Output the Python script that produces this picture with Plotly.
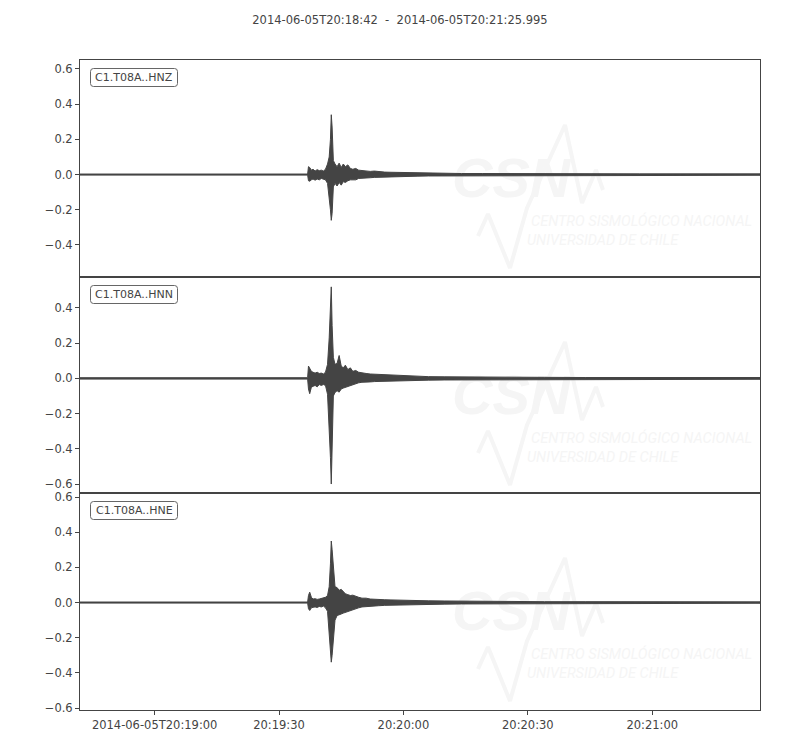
import pandas as pd
import plotly.graph_objects as go

# ---------------- data ----------------
START = "2014-06-05 20:18:42"
END = "2014-06-05 20:21:25.995"
TITLE = "2014-06-05T20:18:42  -  2014-06-05T20:21:25.995"

CHANNELS = ["C1.T08A..HNZ", "C1.T08A..HNN", "C1.T08A..HNE"]

# seconds after START at which the min/max envelope was read
T_SEC = [0, 8, 16, 24, 32, 40, 48, 54.9, 55.1, 55.4, 55.8, 56.2, 56.7, 57.2, 57.7,
         58.2, 58.7, 59.2, 59.7, 60.1, 60.4, 60.6, 60.8, 61.1, 61.5, 62.0, 62.5,
         63.0, 63.5, 64.0, 64.6, 65.2, 65.8, 66.5, 67.2, 68.0, 69.0, 70.0, 71.0,
         72.0, 73.5, 75.0, 77.0, 79.0, 81.5, 84.0, 88.0, 92.0, 97.0, 104.0, 112.0,
         122.0, 135.0, 150.0, 163.995]

HNZ_MAX = [0.003, 0.003, 0.003, 0.003, 0.003, 0.003, 0.003, 0.003, 0.045, 0.04,
           0.025, 0.03, 0.02, 0.028, 0.022, 0.025, 0.02, 0.03, 0.06, 0.10, 0.20,
           0.34, 0.27, 0.08, 0.06, 0.045, 0.065, 0.04, 0.06, 0.045, 0.055, 0.035,
           0.03, 0.035, 0.025, 0.022, 0.02, 0.018, 0.02, 0.016, 0.014, 0.013, 0.012,
           0.01, 0.009, 0.008, 0.007, 0.006, 0.006, 0.005, 0.005, 0.004, 0.004,
           0.004, 0.004]
HNZ_MIN = [-0.003, -0.003, -0.003, -0.003, -0.003, -0.003, -0.003, -0.003, -0.035,
           -0.038, -0.03, -0.025, -0.032, -0.025, -0.03, -0.022, -0.028, -0.03,
           -0.05, -0.12, -0.20, -0.26, -0.22, -0.07, -0.05, -0.065, -0.045, -0.06,
           -0.04, -0.045, -0.035, -0.03, -0.028, -0.03, -0.022, -0.02, -0.019,
           -0.018, -0.016, -0.015, -0.013, -0.012, -0.011, -0.01, -0.009, -0.008,
           -0.007, -0.006, -0.006, -0.005, -0.005, -0.004, -0.004, -0.004, -0.004]

HNN_MAX = [0.004, 0.004, 0.004, 0.004, 0.004, 0.004, 0.004, 0.004, 0.07, 0.06,
           0.04, 0.035, 0.03, 0.035, 0.028, 0.03, 0.025, 0.035, 0.08, 0.23, 0.40,
           0.52, 0.30, 0.12, 0.08, 0.085, 0.13, 0.07, 0.06, 0.075, 0.05, 0.06,
           0.04, 0.045, 0.035, 0.03, 0.028, 0.025, 0.024, 0.02, 0.018, 0.016,
           0.014, 0.013, 0.012, 0.01, 0.009, 0.008, 0.007, 0.006, 0.006, 0.005,
           0.005, 0.005, 0.005]
HNN_MIN = [-0.004, -0.004, -0.004, -0.004, -0.004, -0.004, -0.004, -0.004, -0.06,
           -0.087, -0.05, -0.045, -0.04, -0.048, -0.035, -0.04, -0.035, -0.04,
           -0.09, -0.31, -0.45, -0.60, -0.40, -0.10, -0.08, -0.07, -0.078, -0.06,
           -0.055, -0.05, -0.045, -0.04, -0.035, -0.03, -0.025, -0.022, -0.02,
           -0.02, -0.018, -0.016, -0.015, -0.014, -0.013, -0.012, -0.011, -0.01,
           -0.009, -0.008, -0.007, -0.006, -0.006, -0.005, -0.005, -0.005, -0.005]

HNE_MAX = [0.003, 0.003, 0.003, 0.003, 0.003, 0.003, 0.003, 0.003, 0.04, 0.059,
           0.03, 0.02, 0.022, 0.018, 0.02, 0.022, 0.025, 0.03, 0.04, 0.09, 0.22,
           0.35, 0.30, 0.21, 0.09, 0.085, 0.07, 0.075, 0.06, 0.05, 0.045, 0.04,
           0.042, 0.035, 0.03, 0.025, 0.025, 0.02, 0.02, 0.018, 0.016, 0.015,
           0.013, 0.012, 0.011, 0.01, 0.009, 0.008, 0.007, 0.006, 0.005, 0.005,
           0.004, 0.004, 0.004]
HNE_MIN = [-0.003, -0.003, -0.003, -0.003, -0.003, -0.003, -0.003, -0.003, -0.035,
           -0.045, -0.03, -0.027, -0.025, -0.028, -0.022, -0.025, -0.02, -0.03,
           -0.05, -0.15, -0.28, -0.339, -0.30, -0.244, -0.10, -0.074, -0.07,
           -0.065, -0.06, -0.055, -0.05, -0.045, -0.04, -0.035, -0.03, -0.025,
           -0.025, -0.02, -0.02, -0.018, -0.016, -0.015, -0.013, -0.012, -0.011,
           -0.01, -0.009, -0.008, -0.007, -0.006, -0.005, -0.005, -0.004, -0.004,
           -0.004]

Y_RANGES = [[-0.582, 0.651], [-0.651, 0.576], [-0.611, 0.623]]
Y_TICKVALS = [[0.6, 0.4, 0.2, 0.0, -0.2, -0.4],
              [0.4, 0.2, 0.0, -0.2, -0.4, -0.6],
              [0.6, 0.4, 0.2, 0.0, -0.2, -0.4, -0.6]]

X_TICKVALS = ["2014-06-05 20:19:00", "2014-06-05 20:19:30", "2014-06-05 20:20:00",
              "2014-06-05 20:20:30", "2014-06-05 20:21:00"]
X_TICKTEXT = ["2014-06-05T20:19:00", "20:19:30", "20:20:00", "20:20:30", "20:21:00"]

WM_BIG = "CSN"
WM_LINE1 = "CENTRO SISMOLÓGICO NACIONAL"
WM_LINE2 = "UNIVERSIDAD DE CHILE"

# ---------------- styling / geometry (page pixels) ----------------
INK = "#444444"
WM = "#f5f5f5"
FONT = "DejaVu Sans"
BODY = 8                      # default page margin of the html body
W, H = 800 - 2 * BODY, 750 - 2 * BODY
P_L, P_R = 80, 760            # plot area in page pixels
P_TOPS = [60, 277, 493]
P_BOTS = [277, 493, 710]
ML, MR = P_L - BODY, W - (P_R - BODY)
MT, MB = P_TOPS[0] - BODY, H - (P_BOTS[-1] - BODY)

t0 = pd.Timestamp(START)
t1 = pd.Timestamp(END)
dur = t1 - t0


def fmt(ts):
    return ts.strftime("%Y-%m-%d %H:%M:%S.%f")


def px_to_data(px, py, i):
    """page pixel inside panel i -> data coords of that panel"""
    fx = (px - P_L) / (P_R - P_L)
    fy = (P_BOTS[i] - py) / (P_BOTS[i] - P_TOPS[i])
    yr = Y_RANGES[i]
    return fmt(t0 + dur * fx), yr[0] + fy * (yr[1] - yr[0])


def px_to_paper(px, py):
    return (px - P_L) / (P_R - P_L), (P_BOTS[-1] - py) / (P_BOTS[-1] - P_TOPS[0])


times = [fmt(t0 + pd.to_timedelta(s, unit="s")) for s in T_SEC]
envelopes = [(HNZ_MAX, HNZ_MIN), (HNN_MAX, HNN_MIN), (HNE_MAX, HNE_MIN)]

fig = go.Figure()
shapes = []

for i in range(3):
    xa = "x" if i == 0 else f"x{i + 1}"
    ya = "y" if i == 0 else f"y{i + 1}"
    off = P_TOPS[i] - P_TOPS[0]
    # faint watermark (behind the waveform)
    for txt, px, py, size, fam in [
        (f"<b><i>{WM_BIG}</i></b>", 452, 183, 56, "Liberation Sans"),
        (f"<i>{WM_LINE1}</i>", 531, 222, 14.5, "Liberation Sans Narrow, Roboto"),
        (f"<i>{WM_LINE2}</i>", 527, 241, 14.5, "Liberation Sans Narrow, Roboto"),
    ]:
        x, y = px_to_data(px, py + off, i)
        fig.add_trace(go.Scatter(
            x=[x], y=[y], mode="text", text=[txt], textposition="middle right",
            textfont=dict(family=fam, size=size, color=WM),
            hoverinfo="skip", showlegend=False, xaxis=xa, yaxis=ya))
    wave_px = [(478, 236), (488, 214), (510, 268), (527, 208), (565, 125),
               (582, 203), (596, 170), (603, 190)]
    wx, wy = [], []
    for px, py in wave_px:
        x, y = px_to_data(px, py + off, i)
        wx.append(x)
        wy.append(y)
    fig.add_trace(go.Scatter(x=wx, y=wy, mode="lines",
                             line=dict(color=WM, width=4),
                             hoverinfo="skip", showlegend=False,
                             xaxis=xa, yaxis=ya))

    up, lo = envelopes[i]
    fig.add_trace(go.Scatter(
        x=times + times[::-1], y=up + lo[::-1], mode="lines",
        fill="toself", fillcolor=INK, line=dict(color=INK, width=1),
        hoverinfo="skip", showlegend=False, xaxis=xa, yaxis=ya))

    # rounded label box
    bx0, bx1 = 90.5, 177.5
    by0, by1 = P_TOPS[i] + 8.5, P_TOPS[i] + 26.5
    r = 3
    ax0, ay0 = px_to_paper(bx0, by0)
    ax1, ay1 = px_to_paper(bx1, by1)
    rx = r / (P_R - P_L)
    ry = r / (P_BOTS[-1] - P_TOPS[0])
    path = (f"M {ax0 + rx},{ay0} L {ax1 - rx},{ay0} Q {ax1},{ay0} {ax1},{ay0 - ry} "
            f"L {ax1},{ay1 + ry} Q {ax1},{ay1} {ax1 - rx},{ay1} "
            f"L {ax0 + rx},{ay1} Q {ax0},{ay1} {ax0},{ay1 + ry} "
            f"L {ax0},{ay0 - ry} Q {ax0},{ay0} {ax0 + rx},{ay0} Z")
    shapes.append(dict(type="path", path=path, xref="paper", yref="paper",
                       line=dict(color="#666666", width=1), fillcolor="white",
                       layer="above"))
    cx, cy = px_to_paper((bx0 + bx1) / 2, (by0 + by1) / 2)
    fig.add_annotation(
        text=CHANNELS[i], xref="paper", yref="paper", x=cx, y=cy,
        xanchor="center", yanchor="middle", showarrow=False,
        font=dict(family=FONT, size=11, color=INK))

axis_common = dict(showline=True, mirror=True, linecolor=INK, linewidth=1,
                   showgrid=False, zeroline=False)

layout = dict(
    width=W, height=H,
    margin=dict(l=ML, r=MR, t=MT, b=MB, autoexpand=False),
    paper_bgcolor="white", plot_bgcolor="white",
    font=dict(family=FONT, size=11.5, color=INK),
    title=dict(text=TITLE, x=(400 - BODY) / W, xanchor="center",
               y=1 - (20 - BODY) / H, yanchor="middle",
               font=dict(family=FONT, size=11.5, color=INK)),
    showlegend=False,
    shapes=shapes,
)

for i in range(3):
    xk = "xaxis" if i == 0 else f"xaxis{i + 1}"
    yk = "yaxis" if i == 0 else f"yaxis{i + 1}"
    ya = "y" if i == 0 else f"y{i + 1}"
    d0 = (P_BOTS[-1] - P_BOTS[i]) / (P_BOTS[-1] - P_TOPS[0])
    d1 = (P_BOTS[-1] - P_TOPS[i]) / (P_BOTS[-1] - P_TOPS[0])
    last = i == 2
    layout[xk] = dict(axis_common, type="date", range=[fmt(t0), fmt(t1)],
                      anchor=ya, domain=[0, 1],
                      tickvals=X_TICKVALS, ticktext=X_TICKTEXT,
                      showticklabels=last, ticks="outside" if last else "",
                      ticklen=4, tickcolor=INK,
                      tickfont=dict(family=FONT, size=11.5, color=INK))
    if i > 0:
        layout[xk]["matches"] = "x"
    layout[yk] = dict(axis_common, range=Y_RANGES[i], domain=[d0, d1],
                      anchor="x" if i == 0 else f"x{i + 1}",
                      tickvals=Y_TICKVALS[i],
                      ticktext=[f"{v:.1f}".replace("-", "\u2212") if v != 0 else "0.0"
                                for v in Y_TICKVALS[i]],
                      ticks="outside", ticklen=4, tickcolor=INK,
                      tickfont=dict(family=FONT, size=11.5, color=INK))

fig.update_layout(**layout)
fig.write_html("out.html")
